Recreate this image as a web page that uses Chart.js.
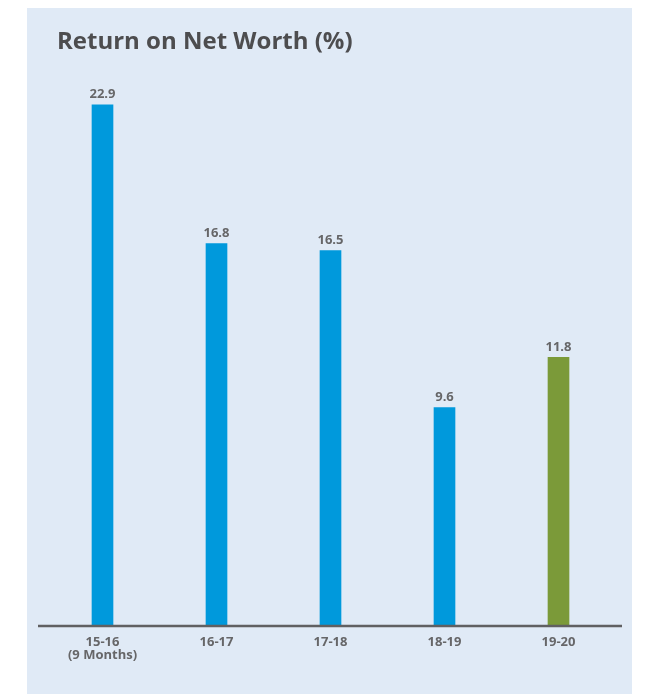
<!DOCTYPE html>
<html>
<head>
<meta charset="utf-8">
<script src="https://cdn.jsdelivr.net/npm/chart.js@4"></script>
<style>
  html, body { margin: 0; padding: 0; background: #ffffff; }
  #wrap { position: relative; width: 646px; height: 695px; }
</style>
</head>
<body>
<div id="wrap"><canvas id="roe-chart" width="646" height="695"></canvas></div>
<script>
// Return on Net Worth (%)
const categories = [['15-16', '(9 Months)'], '16-17', '17-18', '18-19', '19-20'];
const roeValues  = [22.9, 16.8, 16.5, 9.6, 11.8];
const barColors  = ['#0099dc', '#0099dc', '#0099dc', '#0099dc', '#7b9a39'];
const chartTitle = 'Return on Net Worth (%)';

const PANEL_BG  = '#e0eaf6';
const TEXT_DARK = '#4d4d4f';
const TEXT_GREY = '#666668';
const AXIS_GREY = '#606062';

// fond bleu clair du panneau + titre
const panelBg = {
    id: 'panelBg',
    beforeDraw(chart) {
        const c = chart.ctx;
        c.save();
        c.fillStyle = PANEL_BG;
        c.fillRect(27, 8, 605, 686);
        c.font = 'bold 24px "Open Sans"';
        c.fillStyle = TEXT_DARK;
        c.textAlign = 'left';
        c.textBaseline = 'middle';
        c.fillText(chartTitle, 57, 42);
        c.restore();
    },
};

// ligne de base, un peu plus large que la zone des barres
const baseLine = {
    id: 'baseLine',
    afterDatasetsDraw(chart) {
        const { ctx, chartArea, scales } = chart;
        const y = scales.y.getPixelForValue(0);
        ctx.save();
        ctx.strokeStyle = AXIS_GREY;
        ctx.lineWidth = 2.5;
        ctx.beginPath();
        ctx.moveTo(chartArea.left - 7.5, y);
        ctx.lineTo(chartArea.right + 6.5, y);
        ctx.stroke();
        ctx.restore();
    },
};

// valeurs au-dessus des barres
const valueLabels = {
    id: 'valueLabels',
    afterDatasetsDraw(chart) {
        const { ctx } = chart;
        const meta = chart.getDatasetMeta(0);
        ctx.save();
        ctx.font = 'bold 13px "Open Sans"';
        ctx.fillStyle = TEXT_GREY;
        ctx.textAlign = 'center';
        ctx.textBaseline = 'bottom';
        meta.data.forEach((bar, i) => {
            ctx.fillText(roeValues[i].toFixed(1), bar.x, bar.y - 4);
        });
        ctx.restore();
    },
};

new Chart(document.getElementById('roe-chart'), {
    type: 'bar',
    data: {
        labels: categories,
        datasets: [{
            data: roeValues,
            backgroundColor: barColors,
            borderWidth: 0,
            barThickness: 21,
        }],
    },
    options: {
        responsive: false,
        animation: false,
        layout: { padding: { left: 45.5, right: 30.5, top: 57, bottom: 23 } },
        plugins: {
            legend: { display: false },
            tooltip: { enabled: false },
            title: { display: false },
        },
        scales: {
            x: {
                grid: { display: false, drawTicks: false },
                border: { display: false },
                ticks: {
                    color: TEXT_GREY,
                    padding: 10,
                    maxRotation: 0,
                    font: { family: '"Open Sans"', size: 13, weight: 'bold', lineHeight: 1.0 },
                },
            },
            y: {
                display: false,
                min: 0,
                max: 25,
            },
        },
    },
    plugins: [panelBg, baseLine, valueLabels],
});
</script>
</body>
</html>
